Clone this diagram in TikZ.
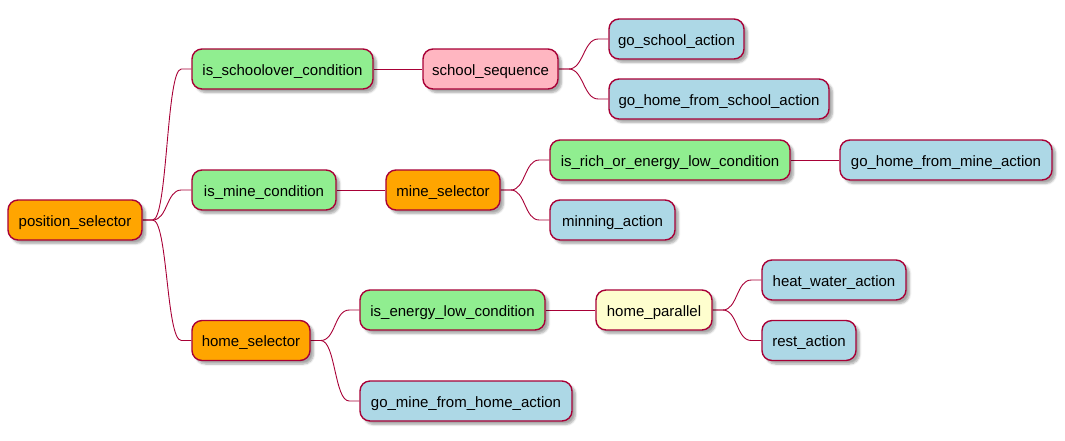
\documentclass[tikz,border=0pt]{standalone}
\usepackage{fontspec}
\setmainfont{Liberation Sans}
\usetikzlibrary{shadows.blur,backgrounds}
\definecolor{bordercol}{HTML}{A80036}
\definecolor{orangec}{HTML}{FFA500}
\definecolor{greenc}{HTML}{90EE90}
\definecolor{bluec}{HTML}{ADD8E6}
\definecolor{pinkc}{HTML}{FFB6C1}
\definecolor{yellowc}{HTML}{FEFECE}
\tikzset{
  mnode/.style={draw=bordercol, line width=1.4pt, rounded corners=10pt,
    minimum height=40pt, inner sep=0pt, text=black,
    text height=12.6pt, text depth=0pt,
    font=\fontsize{15}{17}\selectfont,
    blur shadow={shadow xshift=3.5pt, shadow yshift=-3.5pt, shadow blur steps=6, shadow opacity=35}},
  link/.style={draw=bordercol, line width=0.9pt},
}
\newcommand{\curvelink}[2]{\draw[link] (#1.east) -- ++(10,0) .. controls +(15,0) and +(-15,0) .. ([xshift=-10pt]#2.west) -- (#2.west);}
\newcommand{\straightlink}[2]{\draw[link] (#1.east) -- (#2.west);}
\begin{document}
\begin{tikzpicture}[x=1pt,y=-1pt]
\useasboundingbox (0,0) rectangle (1065,440);
\node[mnode, fill=orangec, minimum width=134pt] (ps) at (75,220) {position\_selector};
\node[mnode, fill=greenc, minimum width=181pt] (isc) at (282.5,69) {is\_schoolover\_condition};
\node[mnode, fill=greenc, minimum width=144pt] (imc) at (264,190) {is\_mine\_condition};
\node[mnode, fill=orangec, minimum width=118pt] (hs) at (251,340.5) {home\_selector};
\node[mnode, fill=pinkc, minimum width=135pt] (ss) at (490.5,69) {school\_sequence};
\node[mnode, fill=bluec, minimum width=135pt] (gs) at (676.5,39) {go\_school\_action};
\node[mnode, fill=bluec, minimum width=220pt] (ghs) at (719,99) {go\_home\_from\_school\_action};
\node[mnode, fill=orangec, minimum width=114pt] (ms) at (443,190) {mine\_selector};
\node[mnode, fill=greenc, minimum width=240pt] (ir) at (670,160) {is\_rich\_or\_energy\_low\_condition};
\node[mnode, fill=bluec, minimum width=212pt] (ghm) at (946,160) {go\_home\_from\_mine\_action};
\node[mnode, fill=bluec, minimum width=125pt] (ma) at (612.5,220) {minning\_action};
\node[mnode, fill=greenc, minimum width=185pt] (iel) at (452.5,310) {is\_energy\_low\_condition};
\node[mnode, fill=yellowc, minimum width=116pt] (hp) at (654,310) {home\_parallel};
\node[mnode, fill=bluec, minimum width=144pt] (hw) at (834,280) {heat\_water\_action};
\node[mnode, fill=bluec, minimum width=94pt] (ra) at (809,340.5) {rest\_action};
\node[mnode, fill=bluec, minimum width=212pt] (gmh) at (466,401) {go\_mine\_from\_home\_action};
\begin{scope}[on background layer]
\curvelink{ps}{isc}
\curvelink{ps}{imc}
\curvelink{ps}{hs}
\straightlink{isc}{ss}
\curvelink{ss}{gs}
\curvelink{ss}{ghs}
\straightlink{imc}{ms}
\curvelink{ms}{ir}
\curvelink{ms}{ma}
\straightlink{ir}{ghm}
\curvelink{hs}{iel}
\curvelink{hs}{gmh}
\straightlink{iel}{hp}
\curvelink{hp}{hw}
\curvelink{hp}{ra}
\end{scope}
\end{tikzpicture}
\end{document}
